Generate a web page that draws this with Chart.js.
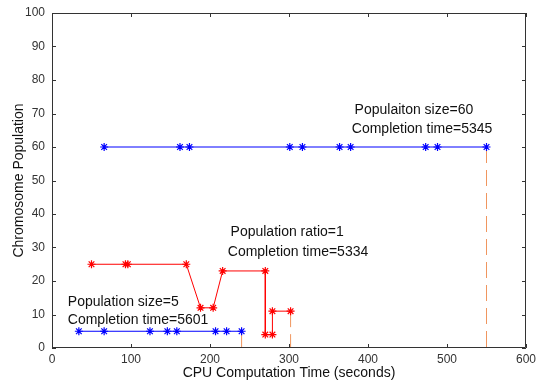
<!DOCTYPE html>
<html>
<head>
<meta charset="utf-8">
<script src="https://cdn.jsdelivr.net/npm/chart.js@4/dist/chart.umd.min.js"></script>
<style>
  html, body { margin: 0; padding: 0; background: #fff; }
  #wrap { width: 537px; height: 387px; }
</style>
</head>
<body>
<div id="wrap"><canvas id="c" width="537" height="387"></canvas></div>
<script>
// Population size = 60 run
const pop60Time = [66, 162, 174, 301, 317, 364, 378, 473, 488, 550];
const pop60Size = [60, 60, 60, 60, 60, 60, 60, 60, 60, 60];

// Population ratio = 1 run
const ratioTime = [50, 93, 96, 170, 188, 204, 216, 270, 270, 279, 279, 302];
const ratioSize = [25, 25, 25, 25, 12, 12, 23, 23, 4, 4, 11, 11];

// Population size = 5 run
const pop5Time = [34, 66, 124, 146, 158, 207, 221, 240];
const pop5Size = [5, 5, 5, 5, 5, 5, 5, 5];

// Finish markers: time and population where each run ends
const finishTime = [240, 302, 550];
const finishSize = [5, 11, 60];

// Axis ticks
const xTicks = [0, 100, 200, 300, 400, 500, 600];
const yTicks = [0, 10, 20, 30, 40, 50, 60, 70, 80, 90, 100];

// Text notes, anchored in data coordinates
const notes = [
  { text: 'Populaiton size=60',   x: 383, y: 71.0 },
  { text: 'Completion time=5345', x: 379.5, y: 65.3 },
  { text: 'Population ratio=1',   x: 226, y: 34.6 },
  { text: 'Completion time=5334', x: 222.5, y: 28.7 },
  { text: 'Population size=5',    x: 20, y: 13.7 },
  { text: 'Completion time=5601', x: 20, y: 8.3 }
];

const zip = (xs, ys) => xs.map((x, i) => ({ x: x, y: ys[i] }));

const finishSets = finishTime.map((t, i) => ({
  data: [{ x: t, y: finishSize[i] }, { x: t, y: 0 }],
  borderColor: 'rgb(240,150,95)',
  borderWidth: 1,
  borderDash: [16, 7],
  pointRadius: 0,
  showLine: true,
  order: 5
}));

const FONT = "'Liberation Sans', Arial, sans-serif";
const AXIS = '#333';

// Box frame, inward ticks and text notes
const framePlugin = {
  id: 'frame',
  afterDatasetsDraw(chart) {
    const { ctx, chartArea: a, scales: { x, y } } = chart;
    ctx.save();
    ctx.strokeStyle = AXIS;
    ctx.lineWidth = 1;
    ctx.beginPath();
    ctx.rect(a.left + 0.5, a.top + 0.5, a.right - a.left - 1, a.bottom - a.top - 1);
    const tl = 4;
    xTicks.forEach(v => {
      const px = Math.round(x.getPixelForValue(v)) + 0.5;
      ctx.moveTo(px, a.bottom); ctx.lineTo(px, a.bottom - tl);
      ctx.moveTo(px, a.top); ctx.lineTo(px, a.top + tl);
    });
    yTicks.forEach(v => {
      const py = Math.round(y.getPixelForValue(v)) + 0.5;
      ctx.moveTo(a.left, py); ctx.lineTo(a.left + tl, py);
      ctx.moveTo(a.right, py); ctx.lineTo(a.right - tl, py);
    });
    ctx.stroke();

    ctx.fillStyle = '#111';
    ctx.font = '14px ' + FONT;
    ctx.textAlign = 'left';
    ctx.textBaseline = 'middle';
    notes.forEach(n => {
      ctx.fillText(n.text, x.getPixelForValue(n.x), y.getPixelForValue(n.y));
    });
    ctx.restore();
  }
};

new Chart(document.getElementById('c'), {
  type: 'scatter',
  data: {
    datasets: [
      {
        data: zip(pop60Time, pop60Size),
        borderColor: '#0000ff', backgroundColor: '#0000ff',
        borderWidth: 1, showLine: true,
        pointStyle: 'star', pointRadius: 4, pointBorderWidth: 1.2, order: 1
      },
      {
        data: zip(ratioTime, ratioSize),
        borderColor: '#ff0000', backgroundColor: '#ff0000',
        borderWidth: 1, showLine: true,
        pointStyle: 'star', pointRadius: 4, pointBorderWidth: 1.2, order: 2
      },
      {
        data: zip(pop5Time, pop5Size),
        borderColor: '#0000ff', backgroundColor: '#0000ff',
        borderWidth: 1, showLine: true,
        pointStyle: 'star', pointRadius: 4, pointBorderWidth: 1.2, order: 3
      },
      ...finishSets
    ]
  },
  options: {
    responsive: false,
    animation: false,
    layout: { padding: { top: 13, right: 11, left: 0, bottom: 0 } },
    plugins: { legend: { display: false }, tooltip: { enabled: false } },
    scales: {
      x: {
        type: 'linear', min: 0, max: 600,
        afterBuildTicks(s) { s.ticks = xTicks.map(v => ({ value: v })); },
        afterFit(s) { s.height = 39; s.paddingLeft = 0; s.paddingRight = 0; },
        grid: { display: false, drawTicks: false },
        border: { display: false },
        ticks: { color: AXIS, font: { family: FONT, size: 12 }, padding: 4, maxRotation: 0 },
        title: {
          display: true, text: 'CPU Computation Time (seconds)',
          color: '#111', font: { family: FONT, size: 14 },
          padding: { top: 0, bottom: 5 }
        }
      },
      y: {
        type: 'linear', min: 0, max: 100,
        afterBuildTicks(s) { s.ticks = yTicks.map(v => ({ value: v })); },
        afterFit(s) { s.width = 52; s.paddingTop = 0; s.paddingBottom = 0; },
        grid: { display: false, drawTicks: false },
        border: { display: false },
        ticks: { color: AXIS, font: { family: FONT, size: 12 }, padding: 7 },
        title: {
          display: true, text: 'Chromosome Population',
          color: '#111', font: { family: FONT, size: 14 },
          padding: { top: 11, bottom: 0 }
        }
      }
    }
  },
  plugins: [framePlugin]
});
</script>
</body>
</html>
